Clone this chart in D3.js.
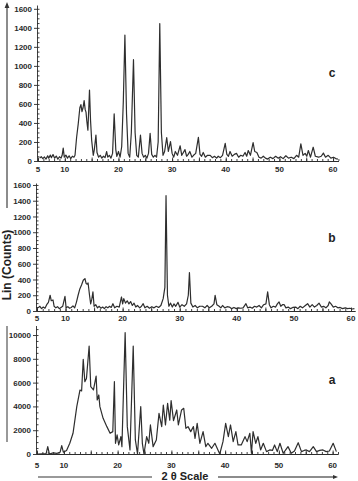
<!DOCTYPE html>
<html><head><meta charset="utf-8">
<script src="https://cdn.jsdelivr.net/npm/d3@7"></script>
<style>body{margin:0;background:#fff}svg{display:block}</style>
</head><body>
<script>
// ---- data: [2theta, counts] ----
const patternC = [[5.3,30],[5.6,45],[5.9,25],[6.2,42],[6.5,20],[6.8,55],[7.0,30],[7.3,62],[7.5,35],[7.8,68],[8.1,30],[8.4,52],[8.7,20],[9.0,45],[9.3,30],[9.5,60],[9.7,135],[9.9,40],[10.2,62],[10.5,30],[10.8,55],[11.1,25],[11.4,50],[11.7,40],[11.9,60],[12.2,250],[12.5,390],[12.8,560],[13.0,593],[13.2,520],[13.4,560],[13.6,634],[13.8,540],[13.95,514],[14.1,420],[14.3,324],[14.6,745],[14.8,420],[15.0,220],[15.3,60],[15.5,120],[15.8,272],[16.0,90],[16.3,40],[16.6,60],[16.9,30],[17.2,50],[17.5,35],[17.8,100],[18.0,40],[18.3,60],[18.6,30],[18.9,80],[19.2,496],[19.5,120],[19.7,48],[20.0,100],[20.3,40],[20.6,150],[20.9,620],[21.2,1324],[21.5,500],[21.8,80],[22.1,40],[22.4,300],[22.8,1065],[23.1,300],[23.4,60],[23.7,40],[24.1,272],[24.4,80],[24.7,40],[25.0,60],[25.3,30],[25.6,80],[25.9,290],[26.2,70],[26.5,40],[26.8,60],[27.1,40],[27.4,200],[27.7,1445],[28.0,300],[28.3,60],[28.6,100],[29.0,245],[29.3,100],[29.7,203],[30.0,80],[30.3,40],[30.6,100],[31.0,60],[31.5,160],[31.8,60],[32.1,90],[32.4,120],[32.7,50],[33.0,70],[33.3,100],[33.7,40],[34.0,60],[34.4,80],[34.9,248],[35.2,70],[35.5,50],[35.8,90],[36.2,40],[36.6,60],[37.1,60],[37.5,35],[37.9,50],[38.3,30],[38.6,50],[39.0,35],[39.4,60],[39.9,186],[40.2,70],[40.5,50],[40.8,100],[41.2,50],[41.6,70],[42.0,80],[42.4,40],[42.8,60],[43.2,50],[43.6,90],[43.9,50],[44.2,110],[44.6,60],[45.1,193],[45.4,100],[45.8,90],[46.2,40],[46.6,30],[47.0,50],[47.4,30],[47.8,20],[48.3,40],[48.8,25],[49.3,50],[49.8,30],[50.2,45],[50.7,25],[51.2,55],[51.7,30],[52.2,40],[52.7,25],[53.2,60],[53.6,40],[54.0,180],[54.4,60],[54.8,80],[55.1,50],[55.4,110],[55.8,40],[56.3,145],[56.7,50],[57.3,40],[57.8,50],[58.2,83],[58.6,40],[59.1,60],[59.6,30],[60.1,40],[60.5,25],[60.9,20]];

const patternB = [[5.2,40],[5.5,60],[5.8,30],[6.1,50],[6.4,35],[6.7,80],[7.0,110],[7.3,200],[7.5,130],[7.8,140],[8.0,60],[8.3,40],[8.6,55],[8.9,30],[9.2,45],[9.5,60],[9.9,187],[10.1,40],[10.4,55],[10.7,35],[11.0,45],[11.3,65],[11.6,40],[11.9,110],[12.2,200],[12.5,280],[12.8,330],[13.1,390],[13.4,412],[13.6,350],[13.8,340],[13.95,356],[14.2,200],[14.4,90],[14.6,150],[14.8,242],[15.0,60],[15.3,80],[15.6,40],[15.9,60],[16.2,35],[16.5,50],[16.8,30],[17.1,55],[17.4,40],[17.7,60],[18.0,45],[18.3,93],[18.6,40],[19.0,60],[19.4,50],[19.8,178],[20.0,90],[20.2,157],[20.5,100],[20.8,130],[21.1,90],[21.4,120],[21.7,70],[22.0,100],[22.3,50],[22.6,70],[23.0,40],[23.3,60],[23.6,93],[23.9,40],[24.3,60],[24.7,35],[25.1,55],[25.5,40],[25.9,60],[26.3,45],[26.7,70],[27.1,157],[27.4,300],[27.6,1464],[27.85,200],[28.1,60],[28.4,100],[28.7,50],[29.0,90],[29.3,60],[29.7,110],[30.0,50],[30.4,80],[30.8,60],[31.2,90],[31.5,200],[31.7,488],[31.95,100],[32.3,50],[32.7,70],[33.1,40],[33.5,60],[34.0,60],[34.4,40],[34.8,70],[35.2,40],[35.6,60],[36.0,90],[36.2,200],[36.5,80],[36.9,60],[37.2,40],[37.5,70],[37.9,40],[38.3,55],[38.7,50],[39.1,30],[39.5,45],[39.9,30],[40.3,40],[40.7,35],[41.1,40],[41.6,93],[41.9,40],[42.3,50],[42.7,35],[43.1,60],[43.5,50],[43.9,70],[44.3,40],[44.7,80],[45.1,90],[45.4,242],[45.7,80],[46.0,40],[46.4,60],[46.8,50],[47.1,90],[47.4,115],[47.7,60],[48.0,80],[48.3,80],[48.6,40],[49.0,50],[49.4,30],[49.8,45],[50.3,50],[50.7,30],[51.1,60],[51.5,40],[52.0,70],[52.4,93],[52.8,50],[53.2,80],[53.6,50],[54.0,70],[54.4,100],[54.8,50],[55.2,60],[55.6,40],[56.0,70],[56.2,115],[56.5,90],[56.9,50],[57.3,60],[57.7,40],[58.1,45],[58.5,30],[59.0,40],[59.4,30],[59.8,35],[60.2,25],[60.6,30]];

const patternA = [[5.0,0],[5.2,0],[6.7,30],[7.0,616],[7.3,0],[8.0,100],[8.7,50],[9.3,150],[9.6,700],[9.9,150],[10.5,300],[11.1,900],[11.7,1740],[12.4,3980],[13.0,5380],[13.3,5300],[13.6,7950],[13.9,6080],[14.2,6350],[14.7,9075],[15.0,5660],[15.5,5380],[16.0,6550],[16.2,4540],[16.5,4960],[16.7,3980],[17.3,3000],[18.0,2300],[18.6,1740],[19.1,1880],[19.4,6080],[19.6,900],[19.9,1600],[20.2,760],[20.6,1460],[20.8,620],[21.4,10200],[21.8,2300],[22.3,340],[22.9,9075],[23.3,1180],[23.7,0],[24.3,3980],[24.6,900],[24.9,0],[25.4,1460],[25.8,900],[26.1,2440],[26.6,620],[27.2,1180],[27.7,3420],[28.2,2300],[28.5,4120],[28.9,2440],[29.3,4260],[29.7,2850],[29.95,4480],[30.4,2800],[31.0,3700],[31.3,2440],[31.9,3700],[32.3,3840],[32.7,2160],[33.1,2300],[33.6,1880],[34.1,2300],[34.4,1320],[34.8,2580],[35.3,900],[35.9,1880],[36.4,620],[36.8,900],[37.5,480],[38.1,900],[39.0,0],[39.6,1040],[40.1,2580],[40.6,1460],[41.0,2440],[41.5,1040],[42.0,1880],[42.4,760],[43.0,760],[43.7,1460],[44.1,1040],[44.6,1740],[44.9,60],[45.2,1880],[45.7,900],[46.1,1460],[46.6,340],[47.1,900],[47.7,200],[48.3,340],[48.8,300],[49.2,760],[49.7,200],[50.2,900],[50.8,60],[51.2,300],[51.7,620],[52.3,60],[52.9,250],[53.6,950],[54.2,200],[54.7,300],[55.1,340],[55.7,200],[56.4,620],[57.0,200],[57.6,300],[58.2,340],[58.8,200],[59.4,250],[60.1,900],[60.7,200]];

const xTickLabels = [5,10,20,30,40,50,60];
const yTicksCB = [0,200,400,600,800,1000,1200,1400,1600];
const yTicksA = [0,2000,4000,6000,8000,10000];
const panelNames = ["c","b","a"];
const yTitle = "Lin (Counts)";
const xTitle = "2 θ Scale";

// ---- layout ----
const W = 358, H = 481;
const svg = d3.select("body").append("svg").attr("width", W).attr("height", H)
  .style("font-family", "'Liberation Sans', Arial, sans-serif");

const panels = [
  {data: patternC, name: panelNames[0], xr: [38, 338.4], xMax: 61, yr: [161, 5], yMax: 1640, ticks: yTicksCB, minor: 50, nameY: 77, labY: 172},
  {data: patternB, name: panelNames[1], xr: [37, 355], xMax: 60.7, yr: [311, 183], yMax: 1625, ticks: yTicksCB, minor: 50, nameY: 242, labY: 321},
  {data: patternA, name: panelNames[2], xr: [37, 338], xMax: 61, yr: [454, 325.5], yMax: 10800, ticks: yTicksA, minor: 500, nameY: 384, labY: 468}
];

const ink = "#2a2a2a";

panels.forEach(p => {
  const x = d3.scaleLinear().domain([5, p.xMax]).range(p.xr);
  const y = d3.scaleLinear().domain([0, p.yMax]).range(p.yr);
  const g = svg.append("g");

  const xMinor = d3.axisBottom(x).tickValues(d3.range(5, p.xMax + 0.01, 1)).tickSize(-2).tickSizeOuter(0).tickFormat("");
  const xMajor = d3.axisBottom(x).tickValues(d3.range(5, p.xMax + 0.01, 5)).tickSize(-3.5).tickSizeOuter(0).tickFormat("");
  [xMinor, xMajor].forEach(ax => {
    const a = g.append("g").attr("transform", `translate(0,${p.yr[0]})`).call(ax);
    a.selectAll("path,line").attr("stroke", ink).attr("stroke-width", 0.9);
  });
  g.selectAll(".xlab").data(xTickLabels).join("text")
    .attr("x", d => x(d)).attr("y", p.labY).attr("text-anchor", "middle")
    .attr("font-size", 8).attr("font-weight", "bold").attr("fill", ink).text(d => d);

  const yMinor = d3.axisLeft(y).tickValues(d3.range(0, p.yMax + 1, p.minor)).tickSize(-2.5).tickSizeOuter(0).tickFormat("");
  const yMajor = d3.axisLeft(y).tickValues(p.ticks).tickSize(3).tickSizeOuter(0).tickPadding(2)
    .tickFormat(d => d);
  const ym = g.append("g").attr("transform", `translate(${p.xr[0] - 1},0)`).call(yMinor);
  ym.selectAll("path,line").attr("stroke", ink).attr("stroke-width", 0.9);
  const yM = g.append("g").attr("transform", `translate(${p.xr[0] - 1},0)`).call(yMajor);
  yM.select("path").remove();
  yM.selectAll("line").attr("stroke", ink).attr("stroke-width", 0.9);
  yM.selectAll("text").attr("font-size", 8).attr("font-weight", "bold").attr("fill", ink)
    .attr("font-family", "'Liberation Sans', Arial, sans-serif");

  g.append("path").datum(p.data)
    .attr("d", d3.line().x(d => x(d[0])).y(d => y(d[1])))
    .attr("fill", "none").attr("stroke", "#2e2e2e").attr("stroke-width", 1.2).attr("stroke-linejoin", "round");

  g.append("text").attr("x", 332).attr("y", p.nameY).attr("text-anchor", "middle")
    .attr("font-size", 12).attr("font-weight", "bold").attr("fill", "#222").text(p.name);
});

// y title with arrow line
const deco = "#666";
svg.append("line").attr("x1", 7).attr("x2", 7).attr("y1", 6).attr("y2", 208).attr("stroke", deco).attr("stroke-width", 1.5);
svg.append("path").attr("d", "M7,2 L4.6,8 L9.4,8 Z").attr("fill", "#333");
svg.append("line").attr("x1", 7).attr("x2", 7).attr("y1", 326).attr("y2", 442).attr("stroke", "#999").attr("stroke-width", 2);
svg.append("text").attr("transform", "translate(11,265) rotate(-90)").attr("text-anchor", "middle")
  .attr("font-size", 12).attr("font-weight", "bold").attr("fill", "#222").text(yTitle);

// x title with arrow line
svg.append("line").attr("x1", 38).attr("x2", 152).attr("y1", 477).attr("y2", 477).attr("stroke", "#999").attr("stroke-width", 2);
svg.append("line").attr("x1", 218).attr("x2", 334).attr("y1", 477).attr("y2", 477).attr("stroke", deco).attr("stroke-width", 1.3);
svg.append("path").attr("d", "M338,477 L333,475 L333,479 Z").attr("fill", "#333");
svg.append("text").attr("x", 185).attr("y", 480).attr("text-anchor", "middle")
  .attr("font-size", 11).attr("font-weight", "bold").attr("fill", "#222").text(xTitle);
</script>
</body></html>
